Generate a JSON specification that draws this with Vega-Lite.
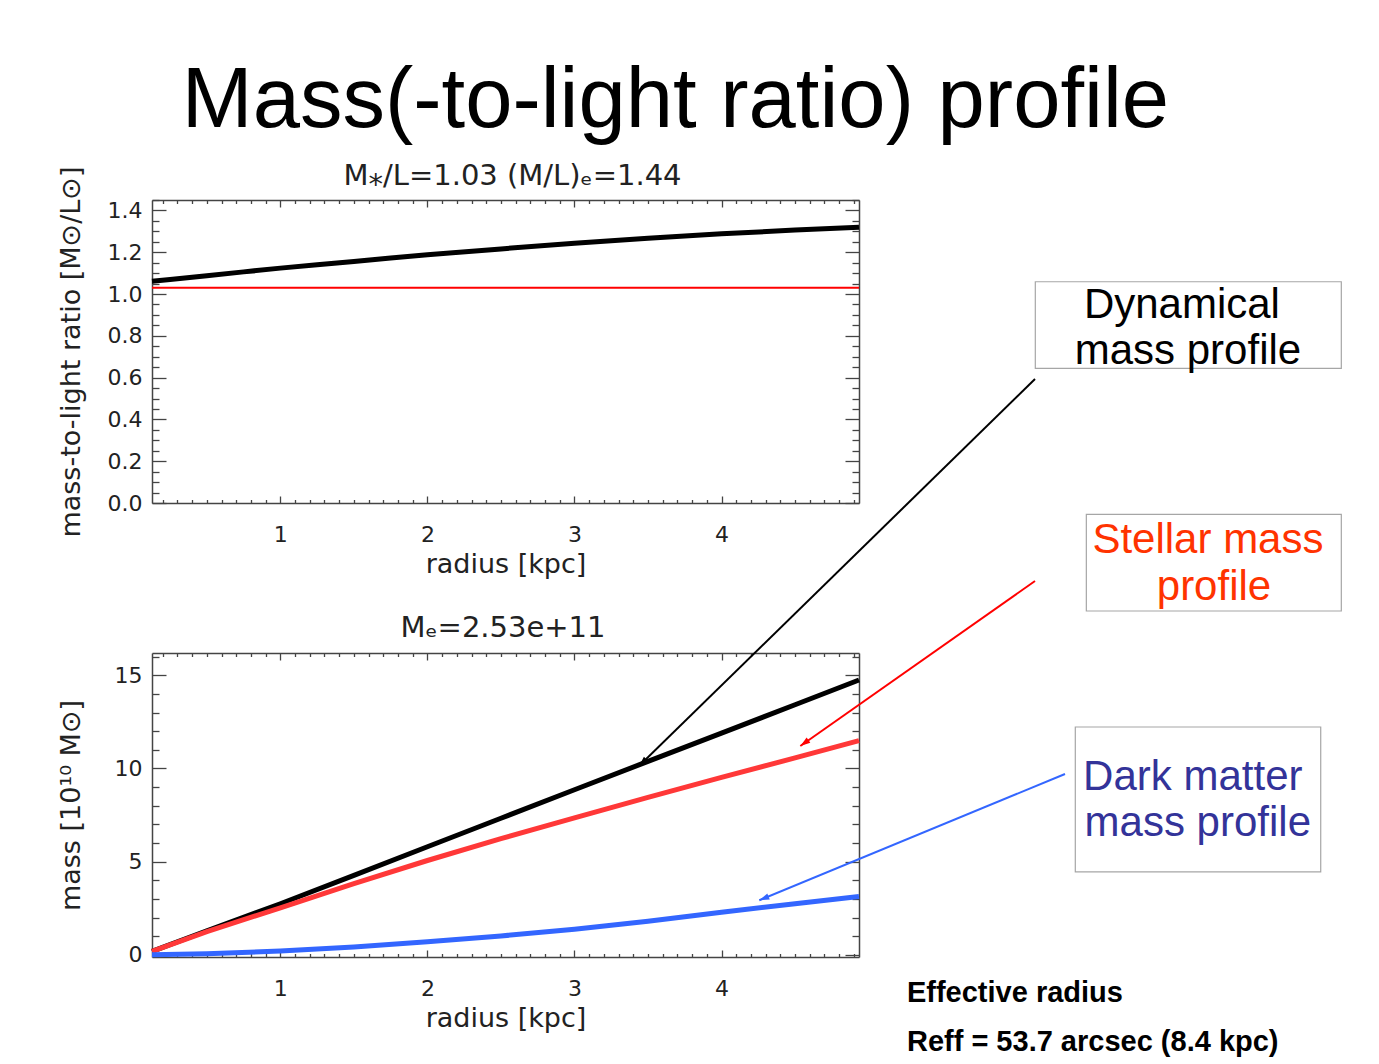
{
  "$schema": "https://vega.github.io/schema/vega-lite/v6.json",
  "background": "white",
  "padding": {"left": 56, "top": 59, "right": 5, "bottom": 5},
  "title": {
    "text": "Mass(-to-light ratio) profile",
    "font": "Liberation Sans",
    "fontSize": 85,
    "fontWeight": "normal",
    "color": "#000000",
    "anchor": "middle",
    "frame": "bounds",
    "offset": 16,
    "dx": -24
  },
  "bounds": "flush",
  "spacing": 150,
  "datasets": {
    "mlDynamical": [
      {"radius": 0.127, "ml": 1.061},
      {"radius": 0.25, "ml": 1.07},
      {"radius": 0.5, "ml": 1.088},
      {"radius": 0.75, "ml": 1.106},
      {"radius": 1.0, "ml": 1.124},
      {"radius": 1.25, "ml": 1.14},
      {"radius": 1.5, "ml": 1.156},
      {"radius": 1.75, "ml": 1.172},
      {"radius": 2.0, "ml": 1.188},
      {"radius": 2.5, "ml": 1.216},
      {"radius": 3.0, "ml": 1.243},
      {"radius": 3.5, "ml": 1.267},
      {"radius": 4.0, "ml": 1.288},
      {"radius": 4.5, "ml": 1.306},
      {"radius": 4.935, "ml": 1.32}
    ],
    "mlStellar": [
      {"radius": 0.127, "ml": 1.03},
      {"radius": 4.935, "ml": 1.03}
    ],
    "mass": [
      {"profile": "Dynamical", "radius": 0.127, "mass": 0.18},
      {"profile": "Dynamical", "radius": 0.5, "mass": 1.29},
      {"profile": "Dynamical", "radius": 1.0, "mass": 2.74},
      {"profile": "Dynamical", "radius": 1.5, "mass": 4.26},
      {"profile": "Dynamical", "radius": 2.0, "mass": 5.8},
      {"profile": "Dynamical", "radius": 2.5, "mass": 7.33},
      {"profile": "Dynamical", "radius": 3.0, "mass": 8.86},
      {"profile": "Dynamical", "radius": 3.5, "mass": 10.38},
      {"profile": "Dynamical", "radius": 4.0, "mass": 11.9},
      {"profile": "Dynamical", "radius": 4.5, "mass": 13.42},
      {"profile": "Dynamical", "radius": 4.935, "mass": 14.75},
      {"profile": "Stellar", "radius": 0.127, "mass": 0.18},
      {"profile": "Stellar", "radius": 0.5, "mass": 1.24},
      {"profile": "Stellar", "radius": 1.0, "mass": 2.52},
      {"profile": "Stellar", "radius": 1.5, "mass": 3.82},
      {"profile": "Stellar", "radius": 2.0, "mass": 5.06},
      {"profile": "Stellar", "radius": 2.5, "mass": 6.23},
      {"profile": "Stellar", "radius": 3.0, "mass": 7.35},
      {"profile": "Stellar", "radius": 3.5, "mass": 8.45},
      {"profile": "Stellar", "radius": 4.0, "mass": 9.52},
      {"profile": "Stellar", "radius": 4.5, "mass": 10.57},
      {"profile": "Stellar", "radius": 4.935, "mass": 11.5},
      {"profile": "Dark matter", "radius": 0.127, "mass": 0.0},
      {"profile": "Dark matter", "radius": 0.5, "mass": 0.05},
      {"profile": "Dark matter", "radius": 1.0, "mass": 0.2},
      {"profile": "Dark matter", "radius": 1.5, "mass": 0.42},
      {"profile": "Dark matter", "radius": 2.0, "mass": 0.7},
      {"profile": "Dark matter", "radius": 2.5, "mass": 1.01},
      {"profile": "Dark matter", "radius": 3.0, "mass": 1.37},
      {"profile": "Dark matter", "radius": 3.5, "mass": 1.8},
      {"profile": "Dark matter", "radius": 4.0, "mass": 2.28},
      {"profile": "Dark matter", "radius": 4.5, "mass": 2.74},
      {"profile": "Dark matter", "radius": 4.935, "mass": 3.13}
    ],
    "boxes": [
      {"profile": "Dynamical", "r1": 6.134, "r2": 8.215, "m1": 36.13, "m2": 31.48},
      {"profile": "Stellar", "r1": 6.481, "r2": 8.215, "m1": 23.645, "m2": 18.454},
      {"profile": "Dark matter", "r1": 6.406, "r2": 8.075, "m1": 12.228, "m2": 4.445}
    ],
    "notes": [
      {"profile": "Dynamical", "line": "Dynamical", "radius": 7.131, "mass": 34.2},
      {"profile": "Dynamical", "line": "mass profile", "radius": 7.172, "mass": 31.73},
      {"profile": "Stellar", "line": "Stellar mass", "radius": 7.308, "mass": 21.55},
      {"profile": "Stellar", "line": "profile", "radius": 7.349, "mass": 19.045},
      {"profile": "Dark matter", "line": "Dark matter", "radius": 7.205, "mass": 8.846},
      {"profile": "Dark matter", "line": "mass profile", "radius": 7.239, "mass": 6.377}
    ],
    "arrows": [
      {"profile": "Dynamical", "radius": 6.132, "mass": 30.907, "tipRadius": 3.439, "tipMass": 10.135},
      {"profile": "Stellar", "radius": 6.132, "mass": 20.065, "tipRadius": 4.536, "tipMass": 11.208},
      {"profile": "Dark matter", "radius": 6.336, "mass": 9.705, "tipRadius": 4.257, "tipMass": 2.926}
    ],
    "effective": [
      {"line": "Effective radius", "radius": 5.261, "mass": -2.533},
      {"line": "Reff = 53.7 arcsec (8.4 kpc)", "radius": 5.261, "mass": -5.163}
    ]
  },
  "vconcat": [
    {
      "width": 707,
      "height": 303,
      "layer": [
        {
          "data": {"name": "mlDynamical"},
          "mark": {"type": "line", "color": "#000000", "strokeWidth": 5},
          "encoding": {
            "x": {
              "field": "radius", "type": "quantitative",
              "scale": {"domain": [0.127, 4.935], "nice": false, "zero": false},
              "axis": {
                "orient": "bottom",
                "values": [0.2,0.3,0.4,0.5,0.6,0.7,0.8,0.9,1,1.1,1.2,1.3,1.4,1.5,1.6,1.7,1.8,1.9,2,2.1,2.2,2.3,2.4,2.5,2.6,2.7,2.8,2.9,3,3.1,3.2,3.3,3.4,3.5,3.6,3.7,3.8,3.9,4,4.1,4.2,4.3,4.4,4.5,4.6,4.7,4.8,4.9],
                "tickSize": {"condition": {"test": "abs(datum.value - round(datum.value)) < 0.001", "value": -7}, "value": -3.5},
                "labelExpr": "abs(datum.value - round(datum.value)) < 0.001 ? format(datum.value, 'd') : ''",
                "labelPadding": 28,
                "title": "radius [kpc]",
                "titleX": 353.5,
                "titleY": 61,
                "titleBaseline": "middle"
              }
            },
            "y": {
              "field": "ml", "type": "quantitative",
              "scale": {"domain": [0, 1.45], "nice": false, "zero": false},
              "axis": {
                "orient": "left",
                "values": [0,0.05,0.1,0.15,0.2,0.25,0.3,0.35,0.4,0.45,0.5,0.55,0.6,0.65,0.7,0.75,0.8,0.85,0.9,0.95,1,1.05,1.1,1.15,1.2,1.25,1.3,1.35,1.4,1.45],
                "tickSize": {"condition": {"test": "abs(datum.value * 5 - round(datum.value * 5)) < 0.001", "value": -14}, "value": -7},
                "labelExpr": "abs(datum.value * 5 - round(datum.value * 5)) < 0.001 ? format(datum.value, '.1f') : ''",
                "labelPadding": 24,
                "title": "mass-to-light ratio [M⊙/L⊙]",
                "titleX": -81,
                "titleY": 151.5,
                "titleBaseline": "middle"
              }
            }
          }
        },
        {
          "data": {"name": "mlStellar"},
          "mark": {"type": "line", "color": "#ff0000", "strokeWidth": 2},
          "encoding": {
            "x": {
              "field": "radius", "type": "quantitative",
              "scale": {"domain": [0.127, 4.935], "nice": false, "zero": false},
              "axis": {
                "orient": "top",
                "values": [0.2,0.3,0.4,0.5,0.6,0.7,0.8,0.9,1,1.1,1.2,1.3,1.4,1.5,1.6,1.7,1.8,1.9,2,2.1,2.2,2.3,2.4,2.5,2.6,2.7,2.8,2.9,3,3.1,3.2,3.3,3.4,3.5,3.6,3.7,3.8,3.9,4,4.1,4.2,4.3,4.4,4.5,4.6,4.7,4.8,4.9],
                "tickSize": {"condition": {"test": "abs(datum.value - round(datum.value)) < 0.001", "value": -7}, "value": -3.5},
                "labels": false,
                "title": "M⁎/L=1.03 (M/L)ₑ=1.44",
                "titleFontSize": 29,
                "titleX": 360,
                "titleY": -16,
                "titleBaseline": "alphabetic",
                "titleAlign": "center"
              }
            },
            "y": {
              "field": "ml", "type": "quantitative",
              "scale": {"domain": [0, 1.45], "nice": false, "zero": false},
              "axis": {
                "orient": "right",
                "values": [0,0.05,0.1,0.15,0.2,0.25,0.3,0.35,0.4,0.45,0.5,0.55,0.6,0.65,0.7,0.75,0.8,0.85,0.9,0.95,1,1.05,1.1,1.15,1.2,1.25,1.3,1.35,1.4,1.45],
                "tickSize": {"condition": {"test": "abs(datum.value * 5 - round(datum.value * 5)) < 0.001", "value": -14}, "value": -7},
                "labels": false,
                "title": null
              }
            }
          }
        }
      ],
      "resolve": {"axis": {"x": "independent", "y": "independent"}}
    },
    {
      "width": 707,
      "height": 304,
      "layer": [
        {
          "data": {"name": "mass"},
          "transform": [{"filter": "datum.profile === 'Dynamical'"}],
          "mark": {"type": "line", "color": "#000000", "strokeWidth": 5},
          "encoding": {
            "x": {
              "field": "radius", "type": "quantitative",
              "scale": {"domain": [0.127, 4.935], "nice": false, "zero": false},
              "axis": {
                "orient": "bottom",
                "values": [0.2,0.3,0.4,0.5,0.6,0.7,0.8,0.9,1,1.1,1.2,1.3,1.4,1.5,1.6,1.7,1.8,1.9,2,2.1,2.2,2.3,2.4,2.5,2.6,2.7,2.8,2.9,3,3.1,3.2,3.3,3.4,3.5,3.6,3.7,3.8,3.9,4,4.1,4.2,4.3,4.4,4.5,4.6,4.7,4.8,4.9],
                "tickSize": {"condition": {"test": "abs(datum.value - round(datum.value)) < 0.001", "value": -7}, "value": -3.5},
                "labelExpr": "abs(datum.value - round(datum.value)) < 0.001 ? format(datum.value, 'd') : ''",
                "labelPadding": 28,
                "title": "radius [kpc]",
                "titleX": 353.5,
                "titleY": 61,
                "titleBaseline": "middle"
              }
            },
            "y": {
              "field": "mass", "type": "quantitative",
              "scale": {"domain": [-0.12, 16.2], "nice": false, "zero": false},
              "axis": {
                "orient": "left",
                "values": [0,1,2,3,4,5,6,7,8,9,10,11,12,13,14,15,16],
                "tickSize": {"condition": {"test": "datum.value % 5 === 0", "value": -14}, "value": -7},
                "labelExpr": "datum.value % 5 === 0 ? format(datum.value, 'd') : ''",
                "labelPadding": 24,
                "title": "mass [10¹⁰ M⊙]",
                "titleX": -81,
                "titleY": 152,
                "titleBaseline": "middle"
              }
            }
          }
        },
        {
          "data": {"name": "mass"},
          "transform": [{"filter": "datum.profile === 'Stellar'"}],
          "mark": {"type": "line", "color": "#ff3838", "strokeWidth": 5},
          "encoding": {
            "x": {
              "field": "radius", "type": "quantitative",
              "scale": {"domain": [0.127, 4.935], "nice": false, "zero": false},
              "axis": {
                "orient": "top",
                "values": [0.2,0.3,0.4,0.5,0.6,0.7,0.8,0.9,1,1.1,1.2,1.3,1.4,1.5,1.6,1.7,1.8,1.9,2,2.1,2.2,2.3,2.4,2.5,2.6,2.7,2.8,2.9,3,3.1,3.2,3.3,3.4,3.5,3.6,3.7,3.8,3.9,4,4.1,4.2,4.3,4.4,4.5,4.6,4.7,4.8,4.9],
                "tickSize": {"condition": {"test": "abs(datum.value - round(datum.value)) < 0.001", "value": -7}, "value": -3.5},
                "labels": false,
                "title": "Mₑ=2.53e+11",
                "titleFontSize": 29,
                "titleX": 350.5,
                "titleY": -17,
                "titleBaseline": "alphabetic",
                "titleAlign": "center"
              }
            },
            "y": {
              "field": "mass", "type": "quantitative",
              "scale": {"domain": [-0.12, 16.2], "nice": false, "zero": false},
              "axis": {
                "orient": "right",
                "values": [0,1,2,3,4,5,6,7,8,9,10,11,12,13,14,15,16],
                "tickSize": {"condition": {"test": "datum.value % 5 === 0", "value": -14}, "value": -7},
                "labels": false,
                "title": null
              }
            }
          }
        },
        {
          "data": {"name": "mass"},
          "transform": [{"filter": "datum.profile === 'Dark matter'"}],
          "mark": {"type": "line", "color": "#3366ff", "strokeWidth": 5},
          "encoding": {
            "x": {"field": "radius", "type": "quantitative", "scale": {"domain": [0.127, 4.935], "nice": false, "zero": false}, "axis": null},
            "y": {"field": "mass", "type": "quantitative", "scale": {"domain": [-0.12, 16.2], "nice": false, "zero": false}, "axis": null}
          }
        },
        {
          "data": {"name": "boxes"},
          "mark": {"type": "rect", "fill": "#ffffff", "fillOpacity": 0, "stroke": "#a6a6a6", "strokeWidth": 1.2, "clip": false},
          "encoding": {
            "x": {"field": "r1", "type": "quantitative", "scale": {"domain": [0.127, 4.935], "nice": false, "zero": false}, "axis": null},
            "x2": {"field": "r2"},
            "y": {"field": "m1", "type": "quantitative", "scale": {"domain": [-0.12, 16.2], "nice": false, "zero": false}, "axis": null},
            "y2": {"field": "m2"}
          }
        },
        {
          "data": {"name": "notes"},
          "mark": {"type": "text", "font": "Liberation Sans", "fontSize": 42, "align": "center", "baseline": "alphabetic", "clip": false},
          "encoding": {
            "x": {"field": "radius", "type": "quantitative", "scale": {"domain": [0.127, 4.935], "nice": false, "zero": false}, "axis": null},
            "y": {"field": "mass", "type": "quantitative", "scale": {"domain": [-0.12, 16.2], "nice": false, "zero": false}, "axis": null},
            "text": {"field": "line"},
            "color": {"field": "profile", "type": "nominal", "scale": {"domain": ["Dynamical", "Stellar", "Dark matter"], "range": ["#000000", "#ff3300", "#333399"]}, "legend": null}
          }
        },
        {
          "data": {"name": "arrows"},
          "mark": {"type": "rule", "strokeWidth": 2, "clip": false},
          "encoding": {
            "x": {"field": "radius", "type": "quantitative", "scale": {"domain": [0.127, 4.935], "nice": false, "zero": false}, "axis": null},
            "y": {"field": "mass", "type": "quantitative", "scale": {"domain": [-0.12, 16.2], "nice": false, "zero": false}, "axis": null},
            "x2": {"field": "tipRadius"},
            "y2": {"field": "tipMass"},
            "color": {"field": "profile", "type": "nominal", "scale": {"domain": ["Dynamical", "Stellar", "Dark matter"], "range": ["#000000", "#ff0000", "#3366ff"]}, "legend": null}
          }
        },
        {
          "data": {"name": "arrows"},
          "transform": [{"filter": "datum.profile === 'Dynamical'"}],
          "mark": {"type": "point", "shape": "M0,0L-0.32,1L0.32,1Z", "size": 400, "filled": true, "opacity": 1, "color": "#000000", "angle": 225.7, "clip": false},
          "encoding": {
            "x": {"field": "tipRadius", "type": "quantitative", "scale": {"domain": [0.127, 4.935], "nice": false, "zero": false}, "axis": null},
            "y": {"field": "tipMass", "type": "quantitative", "scale": {"domain": [-0.12, 16.2], "nice": false, "zero": false}, "axis": null}
          }
        },
        {
          "data": {"name": "arrows"},
          "transform": [{"filter": "datum.profile === 'Stellar'"}],
          "mark": {"type": "point", "shape": "M0,0L-0.32,1L0.32,1Z", "size": 400, "filled": true, "opacity": 1, "color": "#ff0000", "angle": 234.7, "clip": false},
          "encoding": {
            "x": {"field": "tipRadius", "type": "quantitative", "scale": {"domain": [0.127, 4.935], "nice": false, "zero": false}, "axis": null},
            "y": {"field": "tipMass", "type": "quantitative", "scale": {"domain": [-0.12, 16.2], "nice": false, "zero": false}, "axis": null}
          }
        },
        {
          "data": {"name": "arrows"},
          "transform": [{"filter": "datum.profile === 'Dark matter'"}],
          "mark": {"type": "point", "shape": "M0,0L-0.32,1L0.32,1Z", "size": 400, "filled": true, "opacity": 1, "color": "#3366ff", "angle": 247.5, "clip": false},
          "encoding": {
            "x": {"field": "tipRadius", "type": "quantitative", "scale": {"domain": [0.127, 4.935], "nice": false, "zero": false}, "axis": null},
            "y": {"field": "tipMass", "type": "quantitative", "scale": {"domain": [-0.12, 16.2], "nice": false, "zero": false}, "axis": null}
          }
        },
        {
          "data": {"name": "effective"},
          "mark": {"type": "text", "font": "Liberation Sans", "fontSize": 29, "fontWeight": "bold", "color": "#000000", "align": "left", "baseline": "alphabetic", "clip": false},
          "encoding": {
            "x": {"field": "radius", "type": "quantitative", "scale": {"domain": [0.127, 4.935], "nice": false, "zero": false}, "axis": null},
            "y": {"field": "mass", "type": "quantitative", "scale": {"domain": [-0.12, 16.2], "nice": false, "zero": false}, "axis": null},
            "text": {"field": "line"}
          }
        }
      ],
      "resolve": {
        "axis": {"x": "independent", "y": "independent"},
        "scale": {"color": "independent"}
      }
    }
  ],
  "config": {
    "view": {"stroke": null},
    "axis": {
      "grid": false,
      "labelFont": "DejaVu Sans",
      "labelFontSize": 22,
      "labelColor": "#222222",
      "titleFont": "DejaVu Sans",
      "titleFontSize": 27,
      "titleFontWeight": "normal",
      "titleColor": "#222222",
      "domainColor": "#444444",
      "domainWidth": 1.5,
      "tickColor": "#444444",
      "tickWidth": 1.3,
      "labelOverlap": false,
      "labelFlush": false,
      "labelBound": false
    }
  }
}
